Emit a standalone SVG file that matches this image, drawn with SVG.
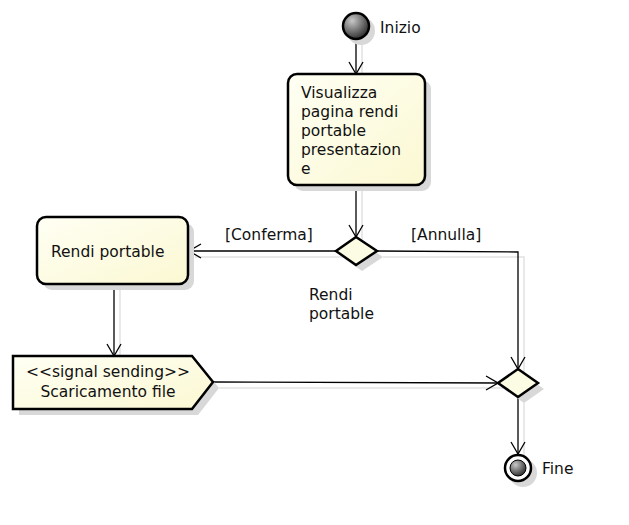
<svg xmlns="http://www.w3.org/2000/svg" width="629" height="525" viewBox="0 0 629 525">
<defs>
<radialGradient id="ball" cx="0.35" cy="0.3" r="0.75">
<stop offset="0" stop-color="#c8c8c8"/>
<stop offset="1" stop-color="#2a2a2a"/>
</radialGradient>
<linearGradient id="note" x1="0" y1="0" x2="1" y2="1">
<stop offset="0" stop-color="#fffff4"/>
<stop offset="1" stop-color="#fbf8d2"/>
</linearGradient>
<marker id="arr" viewBox="0 0 14 16" refX="13" refY="8" markerWidth="14" markerHeight="16" markerUnits="userSpaceOnUse" orient="auto">
<path d="M1,1 L13,8 L1,15" fill="none" stroke="#000" stroke-width="1.3"/>
</marker>
</defs>
<style>
text{font-family:"DejaVu Sans","Liberation Sans",sans-serif;font-size:15.5px;fill:#111}
.sh{fill:#d8d8d8;stroke:none}
.shl{fill:none;stroke:#e2e2e2;stroke-width:1.5}
.box{fill:url(#note);stroke:#000;stroke-width:2.5}
.ln{fill:none;stroke:#000;stroke-width:1.3}
</style>
<rect width="629" height="525" fill="#fff"/>

<g id="connector-shadows">
<path class="shl" d="M362,42 L362,80"/>
<path class="shl" d="M362,191 L362,243"/>
<path class="shl" d="M342,257 L195,257"/>
<path class="shl" d="M383,257 L524,257 L524,375"/>
<path class="shl" d="M120,290 L120,362"/>
<path class="shl" d="M219,388 L504,388"/>
<path class="shl" d="M524,403 L524,460"/>
</g>

<g id="connectors">
<path class="ln" d="M356,40 L356,74" marker-end="url(#arr)"/>
<path class="ln" d="M356,185 L356,237" marker-end="url(#arr)"/>
<path class="ln" d="M336,251 L189,251" marker-end="url(#arr)"/>
<path class="ln" d="M377,251 L518,252 L518,369" marker-end="url(#arr)"/>
<path class="ln" d="M114,284 L114,356" marker-end="url(#arr)"/>
<path class="ln" d="M213,382 L498,383" marker-end="url(#arr)"/>
<path class="ln" d="M518,397 L518,454" marker-end="url(#arr)"/>
<text x="225" y="240">[Conferma]</text>
<text x="411" y="240">[Annulla]</text>
</g>

<g id="start">
<circle class="sh" cx="361" cy="31" r="14"/>
<circle cx="356" cy="26" r="13" fill="url(#ball)" stroke="#000" stroke-width="2.5"/>
<text x="380" y="33">Inizio</text>
</g>

<g id="visualizza">
<rect class="sh" x="294" y="80" width="137" height="111" rx="9"/>
<rect class="box" x="288" y="74" width="137" height="111" rx="9"/>
<text x="301" y="98">Visualizza</text>
<text x="301" y="117">pagina rendi</text>
<text x="301" y="136">portable</text>
<text x="301" y="155">presentazion</text>
<text x="301" y="174">e</text>
</g>

<g id="decision">
<path class="sh" d="M362,243 L383,257 L362,271 L342,257 Z"/>
<path d="M356,237 L377,251 L356,265 L336,251 Z" fill="#fcfce4" stroke="#000" stroke-width="2.5"/>
</g>

<g id="label-rendi">
<text x="309" y="300">Rendi</text>
<text x="309" y="319">portable</text>
</g>

<g id="rendi-portable">
<rect class="sh" x="43" y="223" width="151" height="67" rx="9"/>
<rect class="box" x="37" y="217" width="151" height="67" rx="9"/>
<text x="51" y="257">Rendi portable</text>
</g>

<g id="signal">
<path class="sh" d="M19,362 L198,362 L219,388 L198,415 L19,415 Z"/>
<path d="M13,356 L192,356 L213,382 L192,409 L13,409 Z" fill="url(#note)" stroke="#000" stroke-width="2.5"/>
<text x="108" y="377" text-anchor="middle">&lt;&lt;signal sending&gt;&gt;</text>
<text x="108" y="397" text-anchor="middle">Scaricamento file</text>
</g>

<g id="merge">
<path class="sh" d="M524,375 L544,389 L524,403 L504,389 Z"/>
<path d="M518,369 L538,383 L518,397 L498,383 Z" fill="#fcfce4" stroke="#000" stroke-width="2.5"/>
</g>

<g id="end">
<circle class="sh" cx="523" cy="473" r="14"/>
<circle cx="518" cy="468" r="13" fill="#fff" stroke="#000" stroke-width="2.5"/>
<circle cx="518" cy="468" r="8" fill="url(#ball)" stroke="#000" stroke-width="1"/>
<text x="542" y="474">Fine</text>
</g>
</svg>
